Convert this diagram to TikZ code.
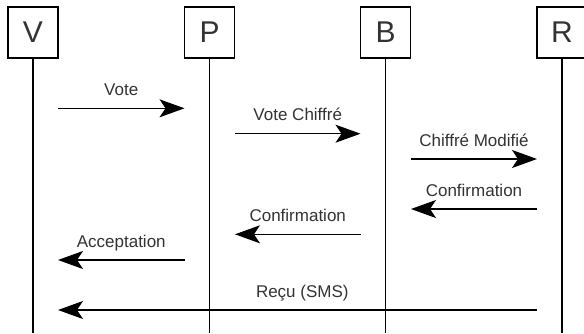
\documentclass[tikz,border=0pt]{standalone}
\usepackage{fontspec}
\setmainfont{Liberation Sans}
\usetikzlibrary{arrows.meta}
\definecolor{txt}{HTML}{333333}
\begin{document}
\begin{tikzpicture}[x=1pt,y=-1pt,
  actor/.style={draw, line width=1.1pt, minimum width=50pt, minimum height=51pt, inner sep=0pt, font=\fontsize{30}{30}\selectfont, text=txt},
  life/.style={line width=1.1pt},
  msg/.style={line width=1.2pt, -{Stealth[length=25pt,width=18pt,inset=6pt]}},
  lbl/.style={font=\fontsize{17}{17}\selectfont, text=txt, anchor=base, yshift=13pt}]
\useasboundingbox (0,0) rectangle (584,333);
\fill[white] (0,0) rectangle (584,333);
% actors
\node[actor] (V) at (33,32.5) {V};
\node[actor] (P) at (209.7,32.5) {P};
\node[actor] (B) at (385.7,32.5) {B};
\node[actor] (R) at (562,32.5) {R};
% lifeline ends
\coordinate (Vend) at (33,333);
\coordinate (Pend) at (209.7,333);
\coordinate (Bend) at (385.7,333);
\coordinate (Rend) at (562,333);
\draw[life] (V) -- (Vend);
\draw[life] (P) -- (Pend);
\draw[life] (B) -- (Bend);
\draw[life] (R) -- (Rend);
% message ends
\coordinate (m1s) at (58,108.3);  \coordinate (m1e) at (184.5,108.3);
\coordinate (m2s) at (235,133.7); \coordinate (m2e) at (360.5,133.7);
\coordinate (m3s) at (411,159);   \coordinate (m3e) at (537,159);
\coordinate (m4s) at (537,209);   \coordinate (m4e) at (411,209);
\coordinate (m5s) at (360.5,234.3); \coordinate (m5e) at (235,234.3);
\coordinate (m6s) at (184.5,260); \coordinate (m6e) at (58,260);
\coordinate (m7s) at (537,310);   \coordinate (m7e) at (58,310);
\draw[msg] (m1s) -- node[lbl] {Vote} (m1e);
\draw[msg] (m2s) -- node[lbl] {Vote Chiffré} (m2e);
\draw[msg] (m3s) -- node[lbl] {Chiffré Modifié} (m3e);
\draw[msg] (m4s) -- node[lbl] {Confirmation} (m4e);
\draw[msg] (m5s) -- node[lbl] {Confirmation} (m5e);
\draw[msg] (m6s) -- node[lbl] {Acceptation} (m6e);
\draw[msg] (m7s) -- node[lbl, pos=0.49] {Reçu (SMS)} (m7e);
\end{tikzpicture}
\end{document}
